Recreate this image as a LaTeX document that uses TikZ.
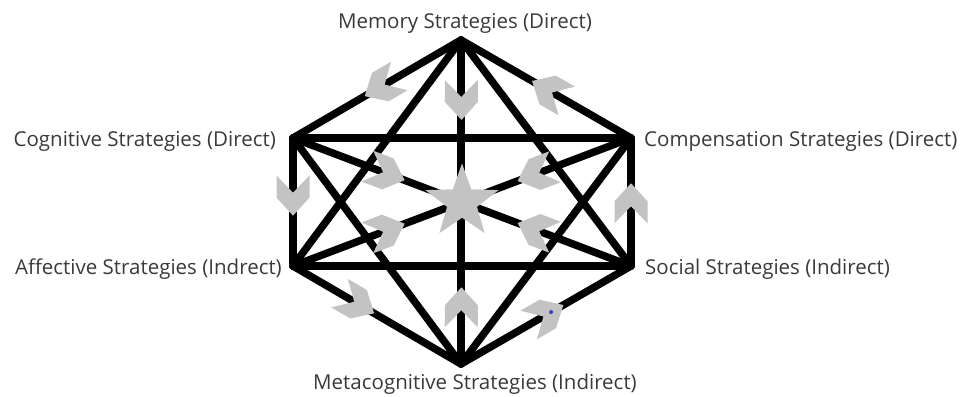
\documentclass[tikz,border=0pt]{standalone}
\usepackage{fontspec}
\setmainfont{Open Sans}
\usepackage{tikz}
\usetikzlibrary{shapes.geometric, calc}
\definecolor{ink}{HTML}{000000}
\definecolor{chevc}{HTML}{C3C3C3}
\definecolor{labc}{HTML}{3A3A3A}
\definecolor{dotc}{HTML}{3C3CC8}

\begin{document}
\begin{tikzpicture}[x=1pt, y=-1pt,
  edge/.style={ink, line width=7.5pt, line cap=round, line join=round},
  lbl/.style={font=\fontsize{20.5}{24}\selectfont, text=labc, inner sep=0pt},
  hub/.style={star, star points=5, star point ratio=2.45, fill=chevc,
              minimum size=77pt, inner sep=0pt},
  chev/.pic={\fill[chevc] (-20,16.5) -- (2,16.5) -- (20,0) -- (2,-16.5)
             -- (-20,-16.5) -- (-3,0) -- cycle;}]
  \useasboundingbox (0,0) rectangle (963,396);
  % the six corners
  \coordinate (mem) at (461,40);
  \coordinate (cog) at (293,138);
  \coordinate (pen) at (631,138);
  \coordinate (aff) at (293,266);
  \coordinate (soc) at (631,266);
  \coordinate (met) at (461,364);
  % every corner joined to every other one
  \foreach \a/\b in {mem/cog, mem/pen, mem/aff, mem/soc, mem/met,
                     cog/pen, cog/aff, cog/soc, cog/met,
                     pen/aff, pen/soc, pen/met,
                     aff/soc, aff/met, soc/met}
    \draw[edge] (\a) -- (\b);
  % star in the middle
  \node[hub] (ctr) at ($(cog)!.5!(soc)$) {};
  % chevrons round the rim, then towards the star
  \foreach \a/\b/\t in {mem/cog/.47, cog/aff/.45, aff/met/.38, met/soc/.5,
                        soc/pen/.49, pen/mem/.48,
                        mem/ctr.center/.37, met/ctr.center/.35,
                        cog/ctr.center/.55, aff/ctr.center/.55,
                        pen/ctr.center/.56, soc/ctr.center/.56}
    \path (\a) -- (\b) pic[pos=\t, sloped, allow upside down] {chev};
  \path (met) -- (soc) coordinate[pos=.53] (dot);
  \fill[dotc] (dot) circle (2);
  % labels
  \node[lbl, anchor=base] (memlbl) at ([xshift=4pt, yshift=11pt]mem) {Memory Strategies (Direct)};
  \node[lbl, anchor=base east] (coglbl) at ([xshift=-17pt, yshift=-8pt]cog) {Cognitive Strategies (Direct)};
  \node[lbl, anchor=base west] (penlbl) at ([xshift=13pt, yshift=-8pt]pen) {Compensation Strategies (Direct)};
  \node[lbl, anchor=base east] (afflbl) at ([xshift=-11pt, yshift=-8pt]aff) {Affective Strategies (Indrect)};
  \node[lbl, anchor=base west] (soclbl) at ([xshift=14pt, yshift=-8pt]soc) {Social Strategies (Indirect)};
  \node[lbl, anchor=base] (metlbl) at ([xshift=14pt, yshift=-25pt]met) {Metacognitive Strategies (Indirect)};
\end{tikzpicture}
\end{document}
